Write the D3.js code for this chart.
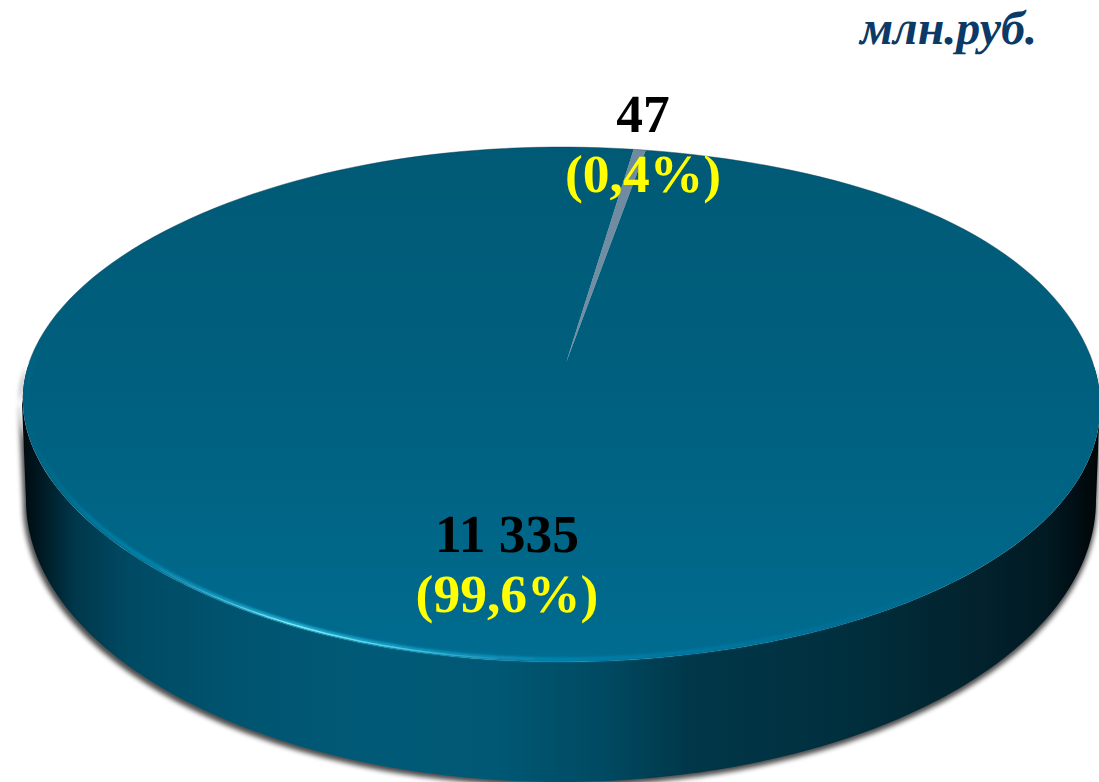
<!DOCTYPE html>
<html>
<head>
<meta charset="utf-8">
<script src="https://cdn.jsdelivr.net/npm/d3@7"></script>
<style>
    html, body { margin: 0; padding: 0; background: #fff; }
    svg { display: block; }
    text { font-family: "Liberation Serif", serif; font-weight: bold; text-rendering: geometricPrecision; }
</style>
</head>
<body>
<div id="chart"></div>
<script>
// values
const categories = ["small", "main"];
const values = [47, 11335];
const valueLabels = ["47", "11 335"];
const shareLabels = ["(0,4%)", "(99,6%)"];
const unitLabel = "млн.руб.";

const width = 1099, height = 782;
const startAngle = 9 * Math.PI / 180; // where the small slice begins

const svg = d3.select("#chart").append("svg")
    .attr("width", width)
    .attr("height", height);

const defs = svg.append("defs");

function addGradient(id, stops, vertical) {
    const g = defs.append("linearGradient")
        .attr("id", id)
        .attr("gradientUnits", "userSpaceOnUse")
        .attr("x1", vertical ? 0 : 22).attr("x2", vertical ? 0 : 1100)
        .attr("y1", vertical ? 147 : 0).attr("y2", vertical ? 662 : 0);
    stops.forEach(s => g.append("stop")
        .attr("offset", s[0])
        .attr("stop-color", s[1])
        .attr("stop-opacity", s[2] === undefined ? 1 : s[2]));
}

addGradient("topFill", [[0, "#005a76"], [0.5, "#00607f"], [1, "#006c90"]], true);
addGradient("sideFill", [
    [0, "#000a0f"], [0.012, "#00141c"], [0.05, "#00384c"], [0.1, "#004a63"], [0.2, "#005470"],
    [0.32, "#005a77"], [0.44, "#005874"], [0.54, "#004a62"], [0.62, "#003749"],
    [0.75, "#00303f"], [0.88, "#02232e"], [0.95, "#011a23"], [1, "#000507"]
]);
addGradient("rimFill", [
    [0, "#00617f", 0.5], [0.06, "#00779c"], [0.16, "#0a8cb4"], [0.25, "#22aed2"], [0.38, "#0f94bd"],
    [0.55, "#007ca6"], [0.8, "#006d94"], [1, "#005f7d", 0.3]
]);
addGradient("rimCore", [
    [0.12, "#5fe0f0", 0], [0.25, "#7ff0f8", 1], [0.34, "#5fe0f0", 0.8], [0.46, "#5fe0f0", 0]
]);
addGradient("sliceFill", [[0, "#6f8aa0"], [1, "#7d93a6"]], true);

function addBlur(id, dev) {
    defs.append("filter").attr("id", id)
        .attr("x", "-5%").attr("y", "-5%").attr("width", "110%").attr("height", "110%")
        .append("feGaussianBlur").attr("stdDeviation", dev);
}
addBlur("blur3", 2.6);
addBlur("blur1", 1.1);
addBlur("blurCore", 0.5);

// perspective of the top face: unit disc -> screen
const persp = -0.161;
function project(angle, r) {
    const u = r * Math.sin(angle), v = -r * Math.cos(angle);
    const w = persp * v + 1;
    const uv = u * v;
    return [
        561 + 532 * u / w + 5 * (1 - r) + 23 * uv * uv - 13 * uv * Math.abs(uv), // slight tilt of the disc
        (192.3 * v + 363) / w
    ];
}

// lower edge of the disc
function lower(angle) {
    return [561 + 535 * Math.sin(angle), 500 - 282 * Math.cos(angle)];
}

const line = d3.line();
const sweep = (a0, a1, fn) => d3.range(0, 181).map(i => fn(a0 + (a1 - a0) * i / 180));

const pie = d3.pie().sort(null)
    .startAngle(startAngle)
    .endAngle(startAngle + 2 * Math.PI);
const arcs = pie(values);

const sideOutline = sweep(Math.PI / 2, 3 * Math.PI / 2, lower)
    .concat([[22, 404]])
    .concat(sweep(3 * Math.PI / 2, Math.PI / 2, a => project(a, 1)))
    .concat([[1100, 404]]);

// soft shadow under the disc
svg.append("path")
    .attr("d", line(sideOutline.map(p => [p[0] + (p[0] < 561 ? -3 : 1), p[1] + 4])) + "Z")
    .attr("fill", "#000")
    .attr("opacity", 0.7)
    .attr("filter", "url(#blur3)");

// disc side
svg.append("path")
    .attr("d", line(sideOutline) + "Z")
    .attr("fill", "url(#sideFill)");

// top face, one path per slice
svg.append("g")
    .selectAll("path")
    .data(arcs)
    .enter().append("path")
    .attr("class", (d, i) => "slice " + categories[i])
    .attr("d", d => {
        const pts = sweep(d.startAngle, d.endAngle, a => project(a, 1));
        return line([project(d.startAngle, 0)].concat(pts)) + "Z";
    })
    .attr("fill", (d, i) => i === 0 ? "url(#sliceFill)" : "url(#topFill)");

// bevel highlight along the front edge of the top face
const frontRim = sweep(Math.PI / 2 - 0.05, 3 * Math.PI / 2 + 0.05, a => project(a, 0.993));
svg.append("path")
    .attr("d", line(frontRim))
    .attr("fill", "none")
    .attr("stroke", "url(#rimFill)")
    .attr("stroke-width", 4.2)
    .attr("filter", "url(#blur1)");
svg.append("path")
    .attr("d", line(sweep(Math.PI + 0.1, 3 * Math.PI / 2, a => project(a, 0.996))))
    .attr("fill", "none")
    .attr("stroke", "url(#rimCore)")
    .attr("stroke-width", 1.5)
    .attr("filter", "url(#blurCore)");

// thin dark line round the back edge
svg.append("path")
    .attr("d", line(sweep(-Math.PI / 2, Math.PI / 2, a => project(a, 1))))
    .attr("fill", "none")
    .attr("stroke", "#003345")
    .attr("stroke-width", 0.8)
    .attr("opacity", 0.5);

const labelPos = [[643, 132, 192], [507, 552, 612]];

const labels = svg.append("g")
    .selectAll("g")
    .data(arcs)
    .enter().append("g")
    .attr("text-anchor", "middle")
    .attr("font-size", 53.5);

labels.append("text")
    .attr("x", (d, i) => labelPos[i][0])
    .attr("y", (d, i) => labelPos[i][1])
    .attr("fill", "#000")
    .text((d, i) => valueLabels[i]);

labels.append("text")
    .attr("x", (d, i) => labelPos[i][0])
    .attr("y", (d, i) => labelPos[i][2])
    .attr("fill", "#ffff00")
    .text((d, i) => shareLabels[i]);

svg.append("text")
    .attr("x", 1037)
    .attr("y", 44)
    .attr("text-anchor", "end")
    .attr("font-size", 48)
    .attr("font-style", "italic")
    .attr("fill", "#0b3a66")
    .text(unitLabel);
</script>
</body>
</html>
